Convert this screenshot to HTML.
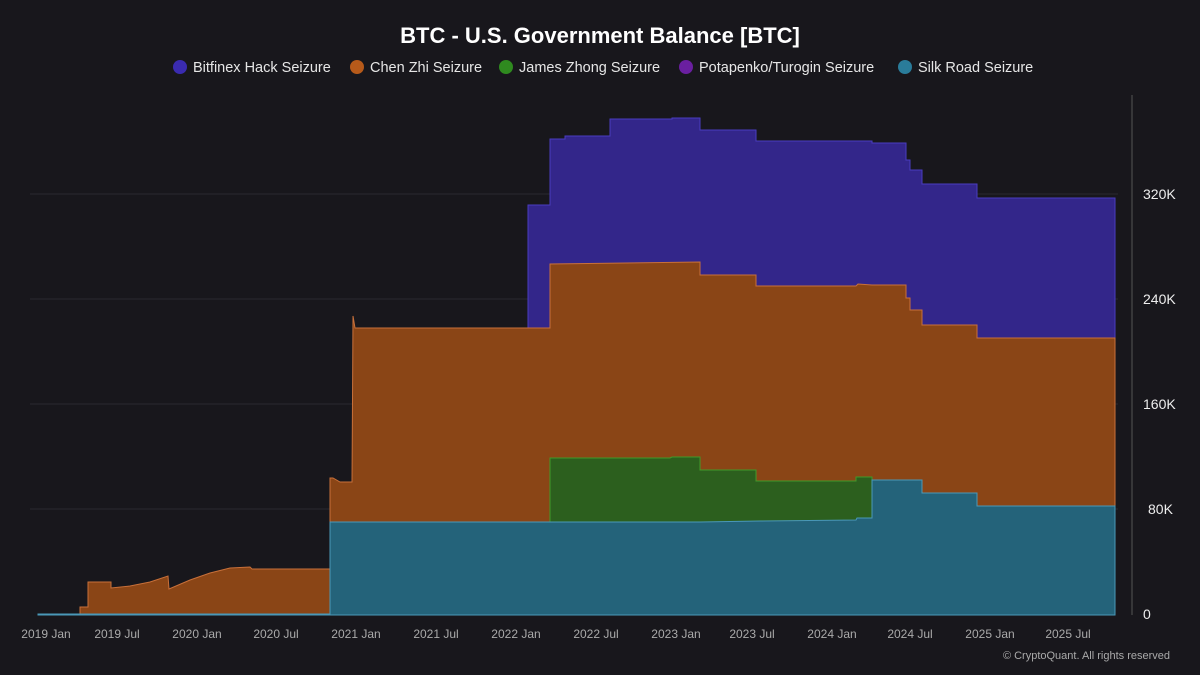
<!DOCTYPE html>
<html><head><meta charset="utf-8"><style>
body{margin:0;background:#18171c;}
svg{display:block;font-family:"Liberation Sans",sans-serif;}
</style></head><body>
<svg width="1200" height="675" viewBox="0 0 1200 675">
<rect width="1200" height="675" fill="#18171c"/>
<text x="600" y="43" text-anchor="middle" fill="#fff" font-size="22" font-weight="bold">BTC - U.S. Government Balance [BTC]</text>
<g font-size="14.5" fill="#e6e6e6">
<circle cx="180" cy="67" r="7" fill="#3a2bb0"/><text x="193" y="72">Bitfinex Hack Seizure</text>
<circle cx="357" cy="67" r="7" fill="#b65a1a"/><text x="370" y="72">Chen Zhi Seizure</text>
<circle cx="506" cy="67" r="7" fill="#2f8a1f"/><text x="519" y="72">James Zhong Seizure</text>
<circle cx="686" cy="67" r="7" fill="#6a1fa0"/><text x="699" y="72">Potapenko/Turogin Seizure</text>
<circle cx="905" cy="67" r="7" fill="#2a7c9a"/><text x="918" y="72">Silk Road Seizure</text>
</g>
<g stroke="#2a2a30" stroke-width="1">
<line x1="30" y1="194" x2="1118" y2="194"/><line x1="30" y1="299" x2="1118" y2="299"/>
<line x1="30" y1="404" x2="1118" y2="404"/><line x1="30" y1="509" x2="1118" y2="509"/>
</g>
<text x="575" y="365" text-anchor="middle" fill="#ffffff" fill-opacity="0.06" font-size="40">CryptoQuant</text>
<polygon fill="#33268a" stroke="#4a3cc0" stroke-width="1" points="528,615 528,205 550,205 550,139 565,139 565,136 610,136 610,119 672,119 672,118 700,118 700,130 756,130 756,141 872,141 872,143 906,143 906,160 910,160 910,170 922,170 922,184 977,184 977,198 1115,198 1115,210 1115,615"/>
<polygon fill="#8a4516" stroke="#c8703a" stroke-width="1" points="80,615 80,607 88,607 88,582 111,582 111,588 130,586 150,582 168,576 169,589 190,580 210,573 230,568 250,567 252,569 330,569 330,478 333,478 340,482 352,482 353,316 355,328 528,328 528,328 550,328 550,264 700,262 700,275 756,275 756,286 856,286 858,284 872,285 906,285 906,298 910,298 910,310 922,310 922,325 977,325 977,338 1115,338 1115,350 1115,615"/>
<polygon fill="#2c5f1e" stroke="#3f9a2a" stroke-width="1" points="550,615 550,458 670,458 672,457 700,457 700,470 756,470 756,481 856,481 856,477 872,477 872,615"/>
<polygon fill="#24637a" stroke="#4a98b8" stroke-width="1" points="38,615 38,614 80,614 330,614 330,522 700,522 760,521 856,520 857,518 872,518 872,480 922,480 922,493 977,493 977,506 1115,506 1115,615"/>
<line x1="1132" y1="95" x2="1132" y2="615" stroke="#555" stroke-width="1"/>
<g font-size="14" fill="#eee">
<text x="1143" y="199">320K</text><text x="1143" y="304">240K</text><text x="1143" y="409">160K</text><text x="1148" y="514">80K</text><text x="1143" y="619">0</text>
</g>
<g font-size="12" fill="#aaa" text-anchor="middle">
<text x="46" y="638">2019 Jan</text><text x="117" y="638">2019 Jul</text><text x="197" y="638">2020 Jan</text><text x="276" y="638">2020 Jul</text><text x="356" y="638">2021 Jan</text><text x="436" y="638">2021 Jul</text><text x="516" y="638">2022 Jan</text><text x="596" y="638">2022 Jul</text><text x="676" y="638">2023 Jan</text><text x="752" y="638">2023 Jul</text><text x="832" y="638">2024 Jan</text><text x="910" y="638">2024 Jul</text><text x="990" y="638">2025 Jan</text><text x="1068" y="638">2025 Jul</text>
</g>
<text x="1170" y="659" text-anchor="end" font-size="11" fill="#aaa">© CryptoQuant. All rights reserved</text>
</svg>
</body></html>
